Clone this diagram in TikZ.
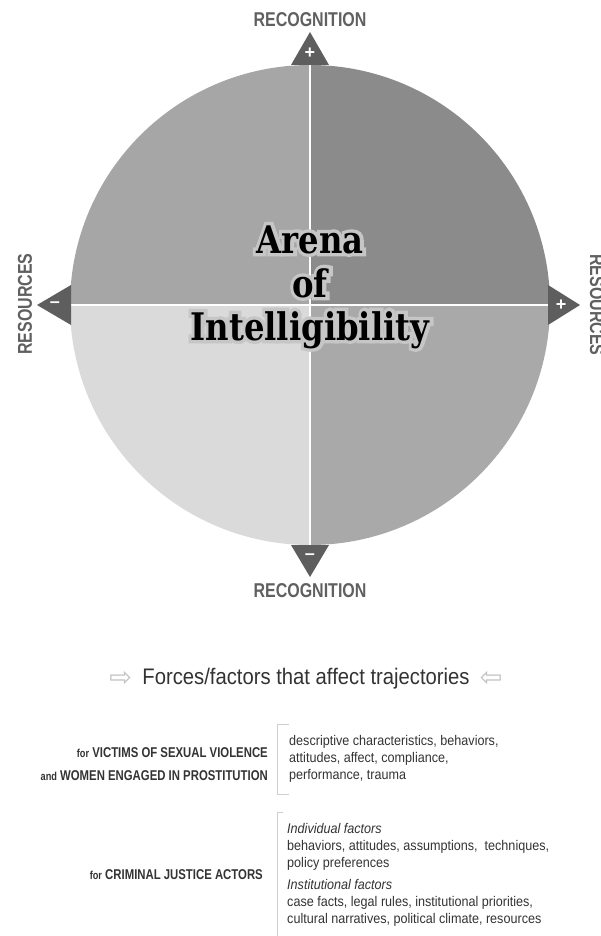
\documentclass[tikz,border=0pt]{standalone}
\usepackage{fontspec}
\setmainfont{Liberation Sans}
\newfontfamily\condfont[FakeStretch=0.8]{Liberation Sans}
\newfontfamily\bodyfont[FakeStretch=0.9]{Liberation Sans}
\newfontfamily\slabfont[FakeStretch=0.85]{DejaVu Serif}
\newfontfamily\glowfont[FakeStretch=0.85, FakeBold=18]{DejaVu Serif}
\newfontfamily\symfont{DejaVu Sans}
\usetikzlibrary{positioning}

\definecolor{quadTL}{HTML}{A6A6A6}
\definecolor{quadTR}{HTML}{8B8B8B}
\definecolor{quadBL}{HTML}{DADADA}
\definecolor{quadBR}{HTML}{A9A9A9}
\definecolor{tipgray}{HTML}{5E5E5E}
\definecolor{labelgray}{HTML}{606060}
\definecolor{textgray}{HTML}{333333}
\definecolor{halo}{HTML}{C6C6C6}
\definecolor{bracketgray}{HTML}{CFCFCF}

\tikzset{
  axislabel/.style={font=\condfont\bfseries\fontsize{20}{20}\selectfont, text=labelgray, inner sep=0pt},
  tip/.style={fill=tipgray},
  sign/.style={font=\bfseries\fontsize{18}{18}\selectfont, text=white, inner sep=0pt},
  divider/.style={draw=white, line width=1.5pt},
  arena/.style={font=\slabfont\bfseries\fontsize{38}{38}\selectfont, anchor=base, inner sep=0pt},
  glow/.style={font=\glowfont\bfseries\fontsize{38}{38}\selectfont, text=halo, anchor=base, inner sep=0pt},
  hollow/.style={font=\symfont\fontsize{27}{27}\selectfont, text=bracketgray!85!gray, inner sep=0pt},
  grouplabel/.style={font=\condfont\bfseries\fontsize{14.2}{23}\selectfont, text=textgray, align=right, anchor=east, inner sep=0pt},
  factors/.style={font=\bodyfont\fontsize{14}{17}\selectfont, text=textgray, align=left, anchor=north west, inner sep=0pt},
  bracket/.style={draw=bracketgray, line width=1pt}
}
\newcommand{\smallword}[1]{{\fontsize{11.5}{11.5}\selectfont #1}}

\begin{document}
\begin{tikzpicture}[x=1pt,y=-1pt]
\useasboundingbox (0,0) rectangle (600,936);
\coordinate (c) at (310,305);
\coordinate (top) at (310,65);
\coordinate (bottom) at (310,545);
\coordinate (left) at (70,305);
\coordinate (right) at (550,305);

% quadrants
\fill[quadBR] (c) -- (right) arc (0:90:240) -- cycle;
\fill[quadBL] (c) -- (bottom) arc (90:180:240) -- cycle;
\fill[quadTL] (c) -- (left) arc (180:270:240) -- cycle;
\fill[quadTR] (c) -- (top) arc (270:360:240) -- cycle;
\draw[divider] (top) -- (bottom);
\draw[divider] (left) -- (right);

% pointers
\fill[tip] (top) ++(-19,0) -- ++(19,-33) -- ++(19,33) -- cycle;
\fill[tip] (bottom) ++(-19,0) -- ++(19,32) -- ++(19,-32) -- cycle;
\fill[tip] (left) ++(1,-20) -- ++(-34,20) -- ++(34,20) -- cycle;
\fill[tip] (right) ++(-2,-20) -- ++(32,20) -- ++(-32,20) -- cycle;
\node[sign] (plustop) at (310,53) {+};
\node[sign] (minusbottom) at (310,557) {--};
\node[sign] (minusleft) at (55,305) {--};
\node[sign] (plusright) at (561,305) {+};

\node[axislabel] (rectop) at (310,20) {RECOGNITION};
\node[axislabel] (recbottom) at (310,591) {RECOGNITION};
\node[axislabel, rotate=90] (resleft) at (25,304) {RESOURCES};
\node[axislabel, rotate=-90] (resright) at (597,305) {RESOURCES};

% title with its glow
\foreach \word/\yy [count=\n] in {Arena/253, of/297, Intelligibility/340}{
  \node[glow] (glow\n) at (310,\yy) {\word};
  \node[arena] (arena\n) at (310,\yy) {\word};
}

% forces
\node[font=\bodyfont\fontsize{22.5}{22.5}\selectfont, text=textgray, inner sep=0pt] (forces) at (306,679) {Forces/factors that affect trajectories};
\node[hollow, left=10pt of forces] (arrleft) {⇨};
\node[hollow, right=10pt of forces] (arrright) {⇦};

\node[grouplabel] (victims) at (268,764) {\smallword{for} VICTIMS OF SEXUAL VIOLENCE\\\smallword{and} WOMEN ENGAGED IN PROSTITUTION};
\node[factors] (victimfacts) at (289,734.8) {descriptive characteristics, behaviors,\\attitudes, affect, compliance,\\performance, trauma};
\draw[bracket] (289,724) -- (277,724) -- (277,794) -- (289,794);

\node[grouplabel] (actors) at (263,875) {\smallword{for} CRIMINAL JUSTICE ACTORS};
\node[factors] (actorfacts) at (287,822.8) {\textit{Individual factors}\\behaviors, attitudes, assumptions,\ \ techniques,\\policy preferences\\[5pt]\textit{Institutional factors}\\case facts, legal rules, institutional priorities,\\cultural narratives, political climate, resources};
\draw[bracket] (283,812) -- (277,812) -- (277,936);
\end{tikzpicture}
\end{document}
